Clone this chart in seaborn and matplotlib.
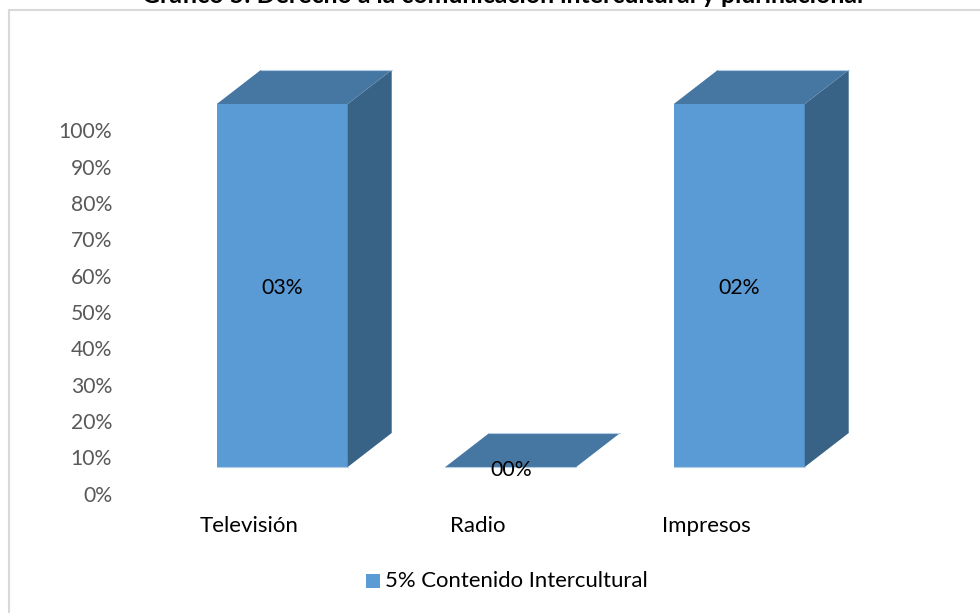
import matplotlib
matplotlib.use("Agg")
import matplotlib.pyplot as plt
import pandas as pd
import seaborn as sns
from matplotlib.patches import Polygon, Rectangle
from matplotlib.transforms import ScaledTranslation

categorias = ["Televisión", "Radio", "Impresos"]
porcentaje = [100, 0, 100]
etiquetas = ["03%", "00%", "02%"]
ticks = [0, 10, 20, 30, 40, 50, 60, 70, 80, 90, 100]
serie = "5% Contenido Intercultural"
titulo = "Gráfico 5: Derecho a la comunicación intercultural y plurinacional"

AZUL = "#5B9BD5"
AZUL_TOP = "#4677A3"
AZUL_LADO = "#386387"
BORDE = "#B4CDE6"
W, H = 980, 613

sns.set_theme(style="white")
plt.rcParams["font.family"] = ["Lato", "DejaVu Sans"]

df = pd.DataFrame({"medio": categorias, "pct": porcentaje})

fig = plt.figure(figsize=(W / 100, H / 100), dpi=100)
# caja del grafico, se sale por la derecha y abajo
fig.add_artist(Rectangle((9 / W, -0.05), 1.1, 1.05 - 9.5 / H, transform=fig.transFigure,
                         fill=False, edgecolor="#D9D9D9", linewidth=1.5))

ax = fig.add_axes([168 / W, 1 - 467 / H, 685.5 / W, 363 / H])
sns.barplot(data=df, x="medio", y="pct", color=AZUL, width=0.573, saturation=1, ax=ax)
ax.set_xlim(-0.5, 2.5)
ax.set_ylim(0, 100)
ax.set_xlabel("")
ax.set_ylabel("")
sns.despine(ax=ax, left=True, bottom=True)
ax.patch.set_alpha(0)

# caras de la barra 3D
dx = 44 / 228.5
dy = 34 / 363 * 100
for i, p in enumerate(list(ax.patches)):
    x0 = p.get_x()
    x1 = x0 + p.get_width()
    h = p.get_height()
    p.set_edgecolor("none")
    ax.add_patch(Polygon([(x1, 0), (x1 + dx, dy), (x1 + dx, h + dy), (x1, h)], closed=True,
                         facecolor=AZUL_LADO, edgecolor="none", clip_on=False, zorder=2))
    ax.add_patch(Polygon([(x0, h), (x1, h), (x1 + dx, h + dy), (x0 + dx, h + dy)], closed=True,
                         facecolor=AZUL_TOP, edgecolor="none", clip_on=False, zorder=2))
    # filo claro atras y abajo
    ax.plot([x0 + dx, x1 + dx], [h + dy, h + dy], color=BORDE, lw=0.8, clip_on=False, zorder=3)
    ax.plot([x0, x1], [0, 0], color=BORDE, lw=0.8, clip_on=False, zorder=3)
    # 00% va un poco mas abajo que la base
    txt = ax.text(x0 + p.get_width() / 2, h / 2, etiquetas[i], ha="center", va="center",
                  fontsize=15.3, color="black", zorder=4, clip_on=False)
    txt.set_transform(txt.get_transform() + ScaledTranslation(0, -2.5 / 100, fig.dpi_scale_trans))

# el eje va corrido respecto a las barras
ax.set_yticks(ticks)
ax.set_yticklabels([f"{t}%" for t in ticks], fontsize=15.2, color="#595959")
ax.tick_params(axis="y", length=0, pad=0)
off_y = ScaledTranslation(-56 / 100, -26.5 / 100, fig.dpi_scale_trans)
for lab in ax.get_yticklabels():
    lab.set_transform(lab.get_transform() + off_y)
    lab.set_ha("right")

ax.tick_params(axis="x", length=0, pad=0)
ax.set_xticks(range(len(categorias)))
ax.set_xticklabels(categorias, fontsize=16, color="black")
off_x = ScaledTranslation(-33 / 100, -48.5 / 100, fig.dpi_scale_trans)
for lab in ax.get_xticklabels():
    lab.set_transform(lab.get_transform() + off_x)

# leyenda
fig.add_artist(Rectangle((366 / W, 1 - 588 / H), 14 / W, 14 / H, transform=fig.transFigure,
                         facecolor=AZUL, edgecolor="none"))
fig.text(385 / W, 1 - 581 / H, serie, ha="left", va="center", fontsize=15.9, color="black")

# el titulo sale cortado por arriba, igual que en la captura
fig.text(503 / W, 1 - 3 / H, titulo, ha="center", va="baseline", fontsize=17.9,
         fontweight="bold", color="black")

fig.savefig("out.png", dpi=100)
